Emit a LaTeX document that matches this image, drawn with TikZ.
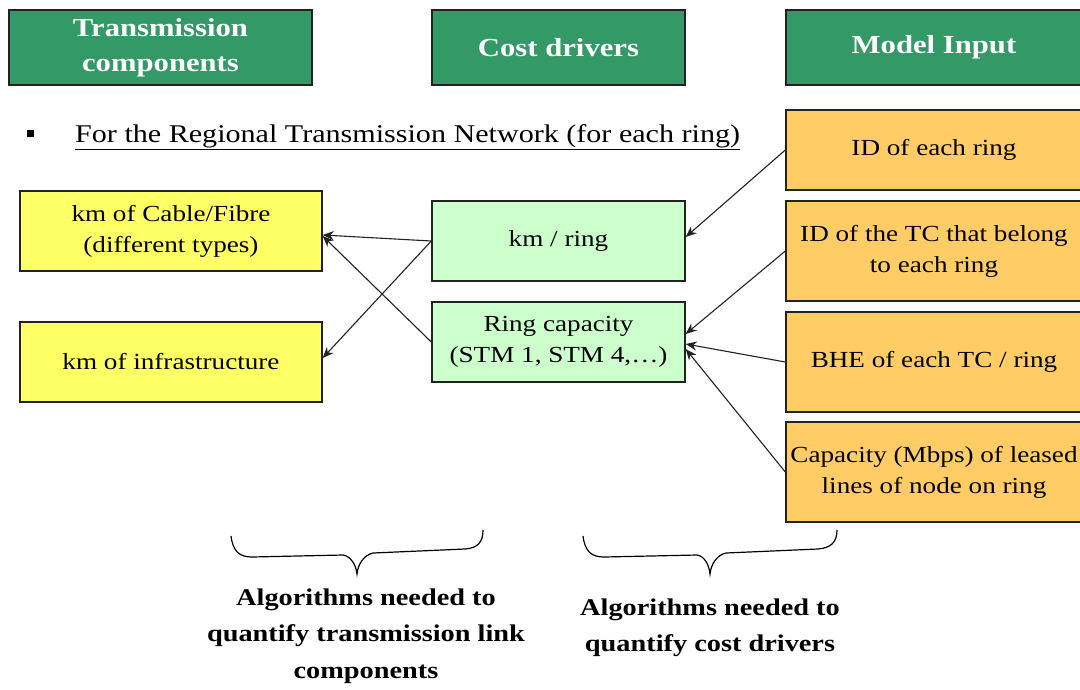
\documentclass[tikz,border=0pt]{standalone}
\usepackage{fontspec}
\setmainfont{Liberation Serif}[FakeStretch=1.18]
\usetikzlibrary{arrows.meta}
\definecolor{headgreen}{HTML}{339966}
\definecolor{compyellow}{HTML}{FFFF66}
\definecolor{drivergreen}{HTML}{CCFFCC}
\definecolor{inputorange}{HTML}{FFCC66}
\definecolor{edgegray}{HTML}{222222}
\tikzset{
  header/.style={draw=edgegray, line width=1.4pt, fill=headgreen, text=white,
    font=\fontsize{26}{35}\selectfont\bfseries, align=center,
    minimum height=75pt, inner sep=0pt},
  box/.style={draw=edgegray, line width=1.4pt, align=center,
    font=\fontsize{23}{31}\selectfont, inner sep=0pt},
  compbox/.style={box, fill=compyellow, minimum width=302pt, minimum height=80pt},
  driverbox/.style={box, fill=drivergreen, minimum width=253pt, minimum height=80pt},
  inputbox/.style={box, fill=inputorange, minimum width=296pt},
  link/.style={draw=edgegray, line width=1.1pt, -{Stealth[length=11pt,width=9pt]}},
  bracepath/.style={draw=black, line width=1.2pt},
  note/.style={font=\fontsize{24}{36.5}\selectfont\bfseries, align=center}
}
\begin{document}
\begin{tikzpicture}[x=1pt,y=-1pt]
\clip (0,0) rectangle (1080,689);
\fill[white] (0,0) rectangle (1080,689);

% column headings
\node[header, minimum width=303pt] (h1) at (160.5,47.5) {Transmission\\components};
\node[header, minimum width=253pt] (h2) at (558.5,47.5) {Cost drivers};
\node[header, minimum width=296pt] (h3) at (934,47.5) {Model Input};

% section title
\node[fill=black, minimum size=7pt, inner sep=0pt] (bul) at (30,133) {};
\node[anchor=west, inner sep=0pt, font=\fontsize{25.5}{30}\selectfont] (title) at (75,137)
  {\underline{For the Regional Transmission Network (for each ring)}};

% transmission components
\node[compbox] (cable) at (171,231) {km of Cable/Fibre\\(different types)};
\node[compbox] (infra) at (171,362) {km of infrastructure};

% cost drivers
\node[driverbox] (kmring) at (558.5,241) {km / ring};
\node[driverbox] (ringcap) at (558.5,342) {Ring capacity\\(STM 1, STM 4,\dots)};

% model inputs
\node[inputbox, minimum height=80pt] (idring) at (934,150) {ID of each ring};
\node[inputbox, minimum height=100pt] (idtc) at (934,251) {ID of the TC that belong\\to each ring};
\node[inputbox, minimum height=100pt] (bhe) at (934,362) {BHE of each TC / ring};
\node[inputbox, minimum height=100pt] (capac) at (934,472) {Capacity (Mbps) of leased\\lines of node on ring};

% cost drivers -> components
\draw[link] (kmring.west) -- ([yshift=-4pt]cable.east);
\draw[link] (kmring.west) -- ([yshift=4pt]infra.east);
\draw[link] (ringcap.west) -- ([yshift=-5pt]cable.east);

% inputs -> cost drivers
\draw[link] (idring.west) -- ([yshift=4pt]kmring.east);
\draw[link] (idtc.west) -- ([yshift=8pt]ringcap.east);
\draw[link] (bhe.west) -- ([yshift=-2pt]ringcap.east);
\draw[link] (capac.west) -- ([yshift=-7pt]ringcap.east);

% braces under the columns
\draw[bracepath] (231,536) .. controls (233,552) and (240,557) .. (252,557)
  -- (343,555) .. controls (350,556) and (356,564) .. (357,574)
  .. controls (358,564) and (364,555) .. (373,553)
  -- (465,549) .. controls (478,548) and (483,542) .. (483,530);
\draw[bracepath] (583,536) .. controls (585,552) and (592,557) .. (604,557)
  -- (697,555) .. controls (704,556) and (709,564) .. (710,574)
  .. controls (711,564) and (717,555) .. (726,553)
  -- (818,549) .. controls (831,548) and (837,542) .. (837,530);

% notes
\node[note] (alg1) at (366,636) {Algorithms needed to\\quantify transmission link\\components};
\node[note] (alg2) at (710,628) {Algorithms needed to\\quantify cost drivers};
\end{tikzpicture}
\end{document}
